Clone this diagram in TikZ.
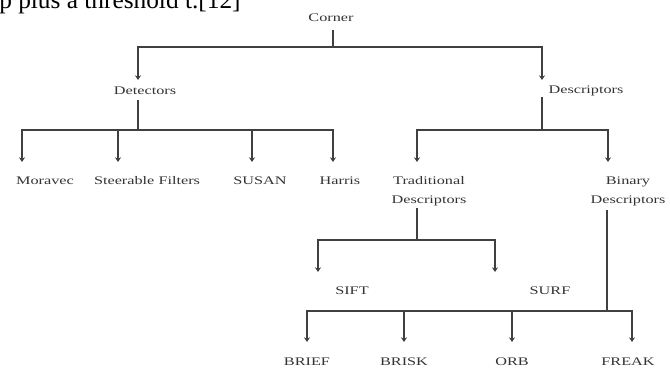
\documentclass[tikz,border=0pt]{standalone}
\usepackage{fontspec}
\setmainfont{Liberation Serif}
\newfontfamily\widefont{Liberation Serif}[FakeStretch=1.4]
\usetikzlibrary{arrows.meta, calc}

\tikzset{
  lbl/.style={font=\widefont\fontsize{8.7}{14.25}\selectfont, text=black!80, inner sep=0pt},
  link/.style={draw=black!75, line width=1.3pt},
  branch/.style={link, -{Stealth[length=3.5pt, width=4.5pt]}}
}

\begin{document}
\begin{tikzpicture}[x=0.75pt, y=-0.75pt]
  \useasboundingbox (0,0) rectangle (670,369);

  % cropped line of the page text above the figure
  \node[anchor=base west, inner sep=0pt, font=\fontsize{19}{22}\selectfont] (pagetext) at (-1,8) {p plus a threshold t.[12]};

  % labels
  \node[lbl] (corner) at (331,18) {Corner};
  \node[lbl] (det)    at (145,91) {Detectors};
  \node[lbl] (desc)   at (586,91) {Descriptors};

  \node[lbl] (mor)    at (45,181)  {Moravec};
  \node[lbl] (steer)  at (147,181) {Steerable Filters};
  \node[lbl] (susan)  at (260,181) {SUSAN};
  \node[lbl] (harris) at (340,181) {Harris};

  \node[lbl, align=center] (trad) at (429,191) {Traditional\\Descriptors};
  \node[lbl, align=center] (bin)  at (628,191) {Binary\\Descriptors};

  \node[lbl] (sift) at (352,291) {SIFT};
  \node[lbl] (surf) at (550,291) {SURF};

  \node[lbl] (brief) at (307,362) {BRIEF};
  \node[lbl] (brisk) at (404,362) {BRISK};
  \node[lbl] (orb)   at (512,362) {ORB};
  \node[lbl] (freak) at (628,362) {FREAK};

  % junctions
  \coordinate (cj) at (333,47);
  \coordinate (dj) at (138,130);
  \coordinate (ej) at (542,130);
  \coordinate (tj) at (417,240);
  \coordinate (bj) at (607,311);

  % Corner
  \draw[link] ($(corner)+(2,12)$) -- (cj);
  \draw[branch] (cj) -| ($(det)+(-7,-11)$);
  \draw[branch] (cj) -| ($(desc)+(-44,-11)$);

  % Detectors
  \draw[link] ($(det)+(-7,9)$) -- (dj);
  \draw[branch] (dj) -| ($(mor)+(-23,-19)$);
  \draw[branch] (dj) -| ($(steer)+(-29,-19)$);
  \draw[branch] (dj) -| ($(susan)+(-8,-19)$);
  \draw[branch] (dj) -| ($(harris)+(-7,-19)$);

  % Descriptors
  \draw[link] ($(desc)+(-44,6)$) -- (ej);
  \draw[branch] (ej) -| ($(trad)+(-12,-29)$);
  \draw[branch] (ej) -| ($(bin)+(-20,-29)$);

  % Traditional
  \draw[link] ($(trad)+(-12,17)$) -- (tj);
  \draw[branch] (tj) -| ($(sift)+(-34,-19)$);
  \draw[branch] (tj) -| ($(surf)+(-55,-19)$);

  % Binary
  \draw[link] ($(bin)+(-21,19)$) -- (bj);
  \draw[branch] (bj) -| ($(brief)+(0,-20)$);
  \draw[branch] (bj) -| ($(brisk)+(0,-20)$);
  \draw[branch] (bj) -| ($(orb)+(0,-20)$);
  \draw[branch] (bj) -| ($(freak)+(4,-20)$);
\end{tikzpicture}
\end{document}
